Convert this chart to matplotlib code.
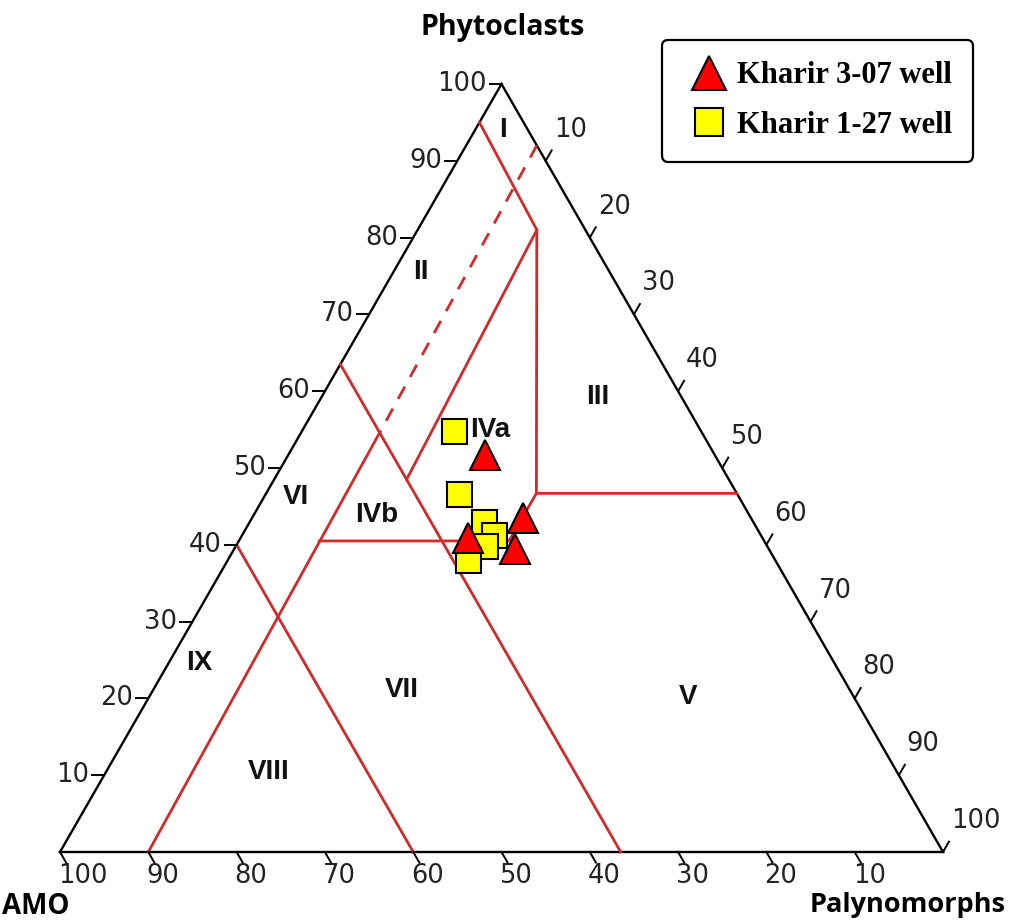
"""
Ternary APP plot (Phytoclasts - AMO - Palynomorphs) with Tyson fields
"""
import numpy as np
import matplotlib.pyplot as plt
from matplotlib.lines import Line2D

# sample values in percent (phytoclasts, AMO, palynomorphs)
k307_phyto = [51.7, 43.5, 40.9, 39.5]
k307_amo = [26.0, 25.8, 33.3, 28.7]
k307_paly = [22.3, 30.7, 25.8, 31.8]

k127_phyto = [54.8, 46.6, 43.0, 41.3, 39.8, 38.0]
k127_amo = [28.0, 31.5, 30.5, 30.2, 32.0, 34.8]
k127_paly = [17.2, 21.9, 26.5, 28.5, 28.2, 27.2]

# field boundaries (phyto, amo, paly)
line_I = [(95, 5, 0), (81, 5.5, 13.5), (46.7, 22.7, 30.6), (46.7, 0, 53.3)]
line_IVa_left = [(81, 5.5, 13.5), (48.5, 36.5, 15)]
line_IVa_base = [(46.7, 22.7, 30.6), (40.5, 28.9, 30.6), (40.5, 50.4, 9.1)]
line_dash = [(92, 0, 8), (54.6, 36.5, 8.9)]
line_solid = [(54.6, 36.5, 8.9), (0, 90, 10)]
line_amo37 = [(63.5, 36.5, 0), (0, 36.5, 63.5)]
line_amo60 = [(40, 60, 0), (0, 60, 40)]

ticks = [10, 20, 30, 40, 50, 60, 70, 80, 90, 100]

field_names = ['I', 'II', 'III', 'IVa', 'IVb', 'V', 'VI', 'VII', 'VIII', 'IX']
field_px = [(503, 130), (421, 272), (598, 397), (490, 430), (377, 515),
            (688, 697), (296, 497), (402, 690), (269, 772), (199, 663)]

red = '#d02b2b'
W, H = 883.0, 768.0   # pixel size of the triangle


def tern(p, a, y):
    p = np.asarray(p, dtype=float) / 100
    y = np.asarray(y, dtype=float) / 100
    return y + p / 2, p


def draw_path(pts, **kw):
    p, a, y = zip(*pts)
    x, yy = tern(p, a, y)
    ax.plot(x, yy, **kw)


def pix(xp, yp):
    return (xp - 60) / W, (852 - yp) / H


fig = plt.figure(figsize=(10.19, 9.21), dpi=100)
ax = fig.add_axes([0, 0, 1, 1])
ax.set_xlim(-60 / W, 959 / W)
ax.set_ylim(-69 / H, 852 / H)
ax.axis('off')

# outline
draw_path([(0, 100, 0), (0, 0, 100), (100, 0, 0), (0, 100, 0)],
          color='black', lw=1.7, solid_joinstyle='miter')

# red fields
for pts in [line_I, line_IVa_left, line_IVa_base, line_solid, line_amo37, line_amo60]:
    draw_path(pts, color=red, lw=2)
draw_path(line_dash, color=red, lw=2, dashes=(5, 4))

# ticks and tick labels
tl = 12
tfont = dict(fontsize=18.5, family='DejaVu Sans', color='#222222')
for v in ticks:
    # phytoclasts, left edge
    x, y = tern(v, 100 - v, 0)
    ax.plot([x, x - tl / W], [y, y], color='black', lw=1.4)
    ax.text(x - 15 / W, y, str(v), ha='right', va='center', **tfont)
    # AMO, bottom edge
    x, y = tern(0, v, 100 - v)
    ax.plot([x, x + 0.5 * tl / W], [y, y - 0.866 * tl / H], color='black', lw=1.4)
    ax.text(x - 2 / W, y - 24 / H, str(v), ha='left', va='center', **tfont)
    # palynomorphs, right edge
    x, y = tern(100 - v, 0, v)
    ax.plot([x, x + 0.5 * tl / W], [y, y + 0.866 * tl / H], color='black', lw=1.4)
    ax.text(x + 8 / W, y + 31 / H, str(v), ha='left', va='center', **tfont)

# apex titles
ax.text(*pix(503, 28), 'Phytoclasts', ha='center', va='center', fontsize=20.5,
        fontweight='bold', family='Open Sans')
ax.text(*pix(2, 906), 'AMO', ha='left', va='center', fontsize=20,
        fontweight='bold', family='Open Sans')
ax.text(*pix(1006, 905), 'Palynomorphs', ha='right', va='center', fontsize=19.5,
        fontweight='bold', family='Open Sans')

# field labels
for name, (xp, yp) in zip(field_names, field_px):
    ax.text(*pix(xp, yp), name, ha='center', va='center', fontsize=20,
            fontweight='bold', family='Liberation Sans', color='#111111')

# samples
x, y = tern(k127_phyto, k127_amo, k127_paly)
ax.plot(x, y, ls='none', marker='s', ms=18, mfc='#ffff00', mec='black', mew=1.5)
x, y = tern(k307_phyto, k307_amo, k307_paly)
ax.plot(x, y, ls='none', marker='^', ms=22, mfc='#ff0000', mec='black', mew=1.5)

handles = [Line2D([], [], ls='none', marker='^', ms=24, mfc='#ff0000', mec='black', mew=1.5),
           Line2D([], [], ls='none', marker='s', ms=20, mfc='#ffff00', mec='black', mew=1.5)]
leg = ax.legend(handles, ['Kharir 3-07 well', 'Kharir 1-27 well'],
                loc='upper left', bbox_to_anchor=(662 / 1019, 1 - 40 / 921),
                bbox_transform=fig.transFigure,
                prop={'family': 'Liberation Serif', 'weight': 'bold', 'size': 22},
                frameon=True, fancybox=True, edgecolor='black', framealpha=1,
                handlelength=1.7, handletextpad=0.05, borderpad=0.7, labelspacing=0.68,
                borderaxespad=0)
leg.get_frame().set_linewidth(1.6)

fig.savefig('out.png', dpi=100)
